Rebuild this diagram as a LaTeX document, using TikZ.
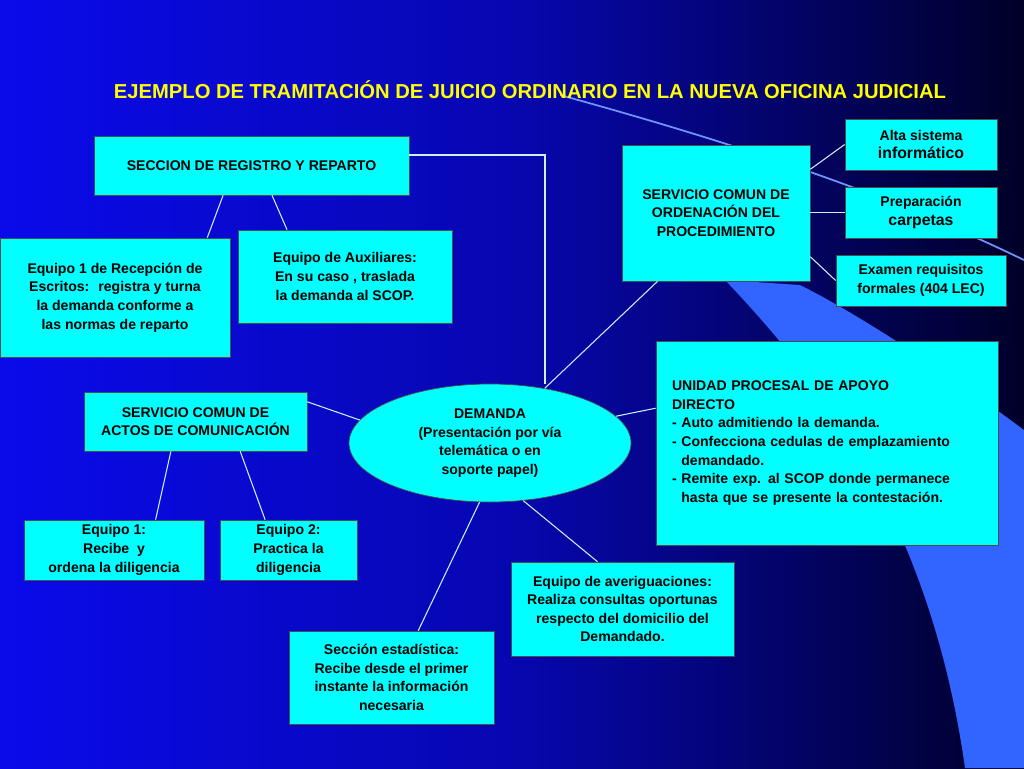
\documentclass[tikz,border=0pt]{standalone}
\usepackage{fontspec}
\setmainfont{Liberation Sans}
\usetikzlibrary{calc,shapes.geometric}
\definecolor{boxcyan}{RGB}{0,255,255}
\definecolor{bgblue}{RGB}{10,10,235}
\definecolor{bgdark}{RGB}{0,0,40}
\definecolor{bandblue}{RGB}{50,100,255}
\definecolor{titleyellow}{RGB}{255,255,0}
\tikzset{
  box/.style={draw=black!70,fill=boxcyan,inner sep=2pt,align=center,font=\bfseries\fontsize{8}{10.6}\selectfont},
  boxsize/.style 2 args={minimum width=#1*0.02cm,minimum height=#2*0.02cm},
  link/.style={draw=white!80!cyan,line width=0.6pt}
}
\begin{document}
\begin{tikzpicture}[x=0.02cm,y=-0.02cm]
		
		% Background
		\useasboundingbox (0,0) rectangle (1024,768);
		\shade[left color=bgblue,right color=bgdark,middle color=bgblue!70!bgdark] (0,0) rectangle (1024,768);
		\fill[bandblue] (725,280) .. controls (820,380) and (930,520) .. (965,768) -- (1024,768) -- (1024,430) .. controls (930,360) and (850,310) .. (800,285) -- cycle;
		\draw[bandblue!70,line width=1pt] (560,95) .. controls (760,150) and (900,200) .. (1024,260);
		
		% Title
		\node[text=titleyellow,font=\bfseries\fontsize{11.5}{13}\selectfont] (title) at (530,90) {EJEMPLO DE TRAMITACIÓN DE JUICIO ORDINARIO EN LA NUEVA OFICINA JUDICIAL};
		
		% Left side
		\node[box,boxsize={315}{59}] (reg) at (251.5,165.5) {SECCION DE REGISTRO Y REPARTO};
		\node[box,boxsize={230}{119}] (recep) at (115,297.5) {Equipo 1 de Recepción de\\Escritos:~ registra y turna\\la demanda conforme a\\las normas de reparto};
		\node[box,boxsize={214}{93}] (aux) at (345,276.5) {Equipo de Auxiliares:\\En su caso , traslada\\la demanda al SCOP.};
		\node[box,boxsize={223}{59}] (actos) at (195.5,421.5) {SERVICIO COMUN DE\\ACTOS DE COMUNICACIÓN};
		\node[box,boxsize={180}{60}] (eqa) at (114,550) {Equipo 1:\\Recibe~ y\\ordena la diligencia};
		\node[box,boxsize={137}{60}] (eqb) at (288.5,550) {Equipo 2:\\Practica la\\diligencia};
		
		% Centre
		\node[box,ellipse,boxsize={282}{118},inner sep=0pt] (dem) at (490,443) {DEMANDA\\(Presentación por vía\\telemática o en\\soporte papel)};
		\node[box,boxsize={205}{93}] (estad) at (391.5,677.5) {Sección estadística:\\Recibe desde el primer\\instante la información\\necesaria};
		\node[box,boxsize={223}{94}] (aver) at (622.5,609) {Equipo de averiguaciones:\\Realiza consultas oportunas\\respecto del domicilio del\\Demandado.};
		
		% Right side
		\node[box,boxsize={188}{136}] (ord) at (716,213) {SERVICIO COMUN DE\\ORDENACIÓN DEL\\PROCEDIMIENTO};
		\node[box,boxsize={152}{51}] (alta) at (921,144.5) {Alta sistema\\{\fontsize{9}{10.6}\selectfont informático}};
		\node[box,boxsize={152}{51}] (prep) at (921,212.5) {Preparación\\{\fontsize{9}{10.6}\selectfont carpetas}};
		\node[box,boxsize={170}{51}] (exam) at (921,280.5) {Examen requisitos\\formales (404 LEC)};
		\node[box,boxsize={342}{204},align=left,text width=310*0.02cm] (upad) at (827,443) {UNIDAD PROCESAL DE APOYO\\DIRECTO\\- Auto admitiendo la demanda.\\- Confecciona cedulas de emplazamiento\\\phantom{- }demandado.\\- Remite exp. al SCOP donde permanece\\\phantom{- }hasta que se presente la contestación.};
		
		% Connectors
		\draw[link] (reg.east|-0,155) -- (545,155) -- (dem.north-|545,0);
		\draw[link] ($(reg.south west)!0.41!(reg.south east)$) -- ($(recep.north west)!0.9!(recep.north east)$);
		\draw[link] ($(reg.south west)!0.565!(reg.south east)$) -- ($(aux.north west)!0.23!(aux.north east)$);
		\draw[link] ($(actos.north east)!0.17!(actos.south east)$) -- (dem.170);
		\draw[link] ($(actos.south west)!0.39!(actos.south east)$) -- ($(eqa.north west)!0.73!(eqa.north east)$);
		\draw[link] ($(actos.south west)!0.7!(actos.south east)$) -- ($(eqb.north west)!0.33!(eqb.north east)$);
		\draw[link] (dem.260) -- ($(estad.north west)!0.63!(estad.north east)$);
		\draw[link] (dem.300) -- ($(aver.north west)!0.388!(aver.north east)$);
		\draw[link] (dem.12) -- ($(upad.north west)!0.33!(upad.south west)$);
		\draw[link] (dem.45) -- ($(ord.south west)!0.19!(ord.south east)$);
		\draw[link] ($(ord.north east)!0.18!(ord.south east)$) -- (alta.west);
		\draw[link] (ord.east|-prep) -- (prep.west);
		\draw[link] ($(ord.north east)!0.82!(ord.south east)$) -- (exam.west);
		
\end{tikzpicture}
\end{document}
